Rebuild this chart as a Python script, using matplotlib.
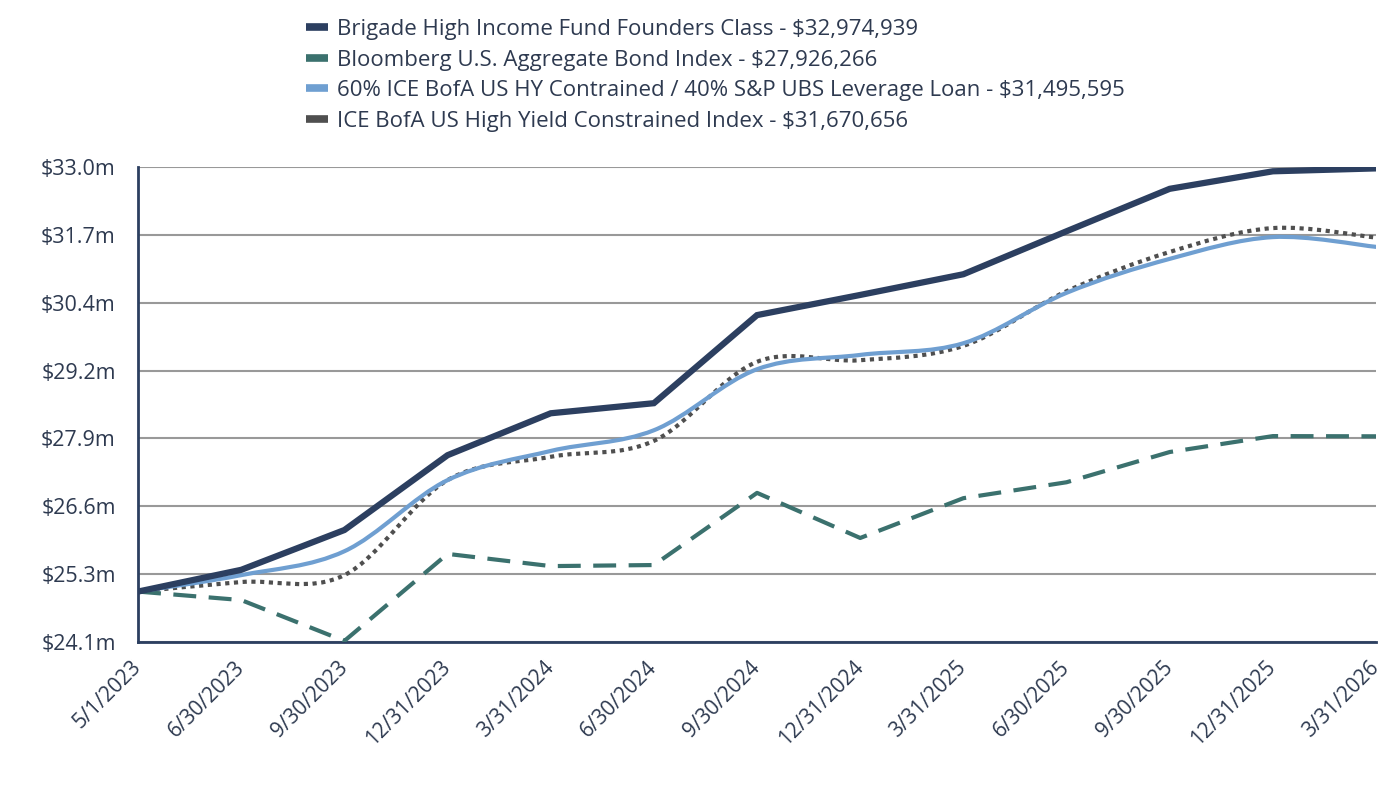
import numpy as np
import matplotlib.pyplot as plt
from matplotlib.path import Path
from matplotlib.patches import PathPatch
from matplotlib.lines import Line2D

plt.rcParams['font.family'] = ['Open Sans', 'DejaVu Sans']

dates = ['5/1/2023', '6/30/2023', '9/30/2023', '12/31/2023', '3/31/2024',
         '6/30/2024', '9/30/2024', '12/31/2024', '3/31/2025', '6/30/2025',
         '9/30/2025', '12/31/2025', '3/31/2026']

# values in $ millions
fund = [25.0, 25.41, 26.16, 27.57, 28.36, 28.55, 30.21, 30.59, 30.98,
        31.79, 32.59, 32.92, 32.975]
agg = [25.0, 24.84, 24.07, 25.71, 25.48, 25.50, 26.86, 26.01, 26.76,
       27.06, 27.63, 27.93, 27.926]
blend = [25.0, 25.31, 25.76, 27.10, 27.65, 28.04, 29.19, 29.46, 29.68,
         30.63, 31.27, 31.68, 31.496]
hy = [25.0, 25.18, 25.31, 27.10, 27.54, 27.84, 29.33, 29.36, 29.63,
      30.66, 31.40, 31.85, 31.671]

labels = ['Brigade High Income Fund Founders Class - $32,974,939',
          'Bloomberg U.S. Aggregate Bond Index - $27,926,266',
          '60% ICE BofA US HY Contrained / 40% S&P UBS Leverage Loan - $31,495,595',
          'ICE BofA US High Yield Constrained Index - $31,670,656']

yticks = ['$24.1m', '$25.3m', '$26.6m', '$27.9m', '$29.2m', '$30.4m', '$31.7m', '$33.0m']

navy = '#2c3f60'
teal = '#3b716e'
light = '#6f9fd1'
grey = '#4f4f4f'
text_c = '#2e3a50'


def smooth_path(xs, ys, t=1 / 6):
    # Catmull-Rom style bezier through the points (like Excel "smoothed line")
    xs = np.asarray(xs, float)
    ys = np.asarray(ys, float)
    n = len(xs)
    verts = [(xs[0], ys[0])]
    codes = [Path.MOVETO]
    for i in range(n - 1):
        p0 = i - 1 if i > 0 else i
        p3 = i + 2 if i + 2 < n else i + 1
        c1 = (xs[i] + (xs[i + 1] - xs[p0]) * t, ys[i] + (ys[i + 1] - ys[p0]) * t)
        c2 = (xs[i + 1] - (xs[p3] - xs[i]) * t, ys[i + 1] - (ys[p3] - ys[i]) * t)
        verts += [c1, c2, (xs[i + 1], ys[i + 1])]
        codes += [Path.CURVE4] * 3
    return Path(verts, codes)


fig = plt.figure(figsize=(13.96, 7.88), dpi=100)
ax = fig.add_axes([0.0989, 0.1853, 0.8868, 0.6027])

x = np.arange(len(dates))

ax.add_patch(PathPatch(smooth_path(x, hy), fill=False, edgecolor=grey, lw=3,
                       linestyle=(0, (1, 1.1)), capstyle='butt', zorder=3))
ax.add_patch(PathPatch(smooth_path(x, blend), fill=False, edgecolor=light, lw=3,
                       capstyle='round', zorder=4))
ax.plot(x, agg, color=teal, lw=3, linestyle=(0, (5.5, 3)), zorder=3)
ax.plot(x, fund, color=navy, lw=4.5, solid_joinstyle='miter', zorder=5)

ymin, ymax = 24.05, 33.0
ax.set_ylim(ymin, ymax)
ax.set_xlim(0, len(dates) - 1)
ax.set_yticks(np.linspace(ymin, ymax, len(yticks)))
ax.set_yticklabels(yticks)
ax.set_xticks(x)
ax.set_xticklabels(dates, rotation=45, ha='right', va='center', rotation_mode='anchor')
ax.tick_params(axis='y', length=0, labelsize=15.5, colors=text_c, pad=16)
ax.tick_params(axis='x', length=0, labelsize=15, colors=text_c, pad=16)

ax.grid(axis='y', color='#999999', lw=1.5)
ax.set_axisbelow(True)
for s in ['top', 'right']:
    ax.spines[s].set_visible(False)
for s in ['left', 'bottom']:
    ax.spines[s].set_color(navy)
    ax.spines[s].set_linewidth(2)

handles = [Line2D([], [], color=c, lw=5.5, solid_capstyle='butt')
           for c in [navy, teal, light, grey]]
leg = fig.legend(handles, labels, loc='upper left', bbox_to_anchor=(0.2127, 0.987),
                 frameon=False, fontsize=16, handlelength=1.0, handletextpad=0.4,
                 labelspacing=0.43, borderaxespad=0)
for t in leg.get_texts():
    t.set_color(text_c)

fig.savefig('out.png', dpi=100)
